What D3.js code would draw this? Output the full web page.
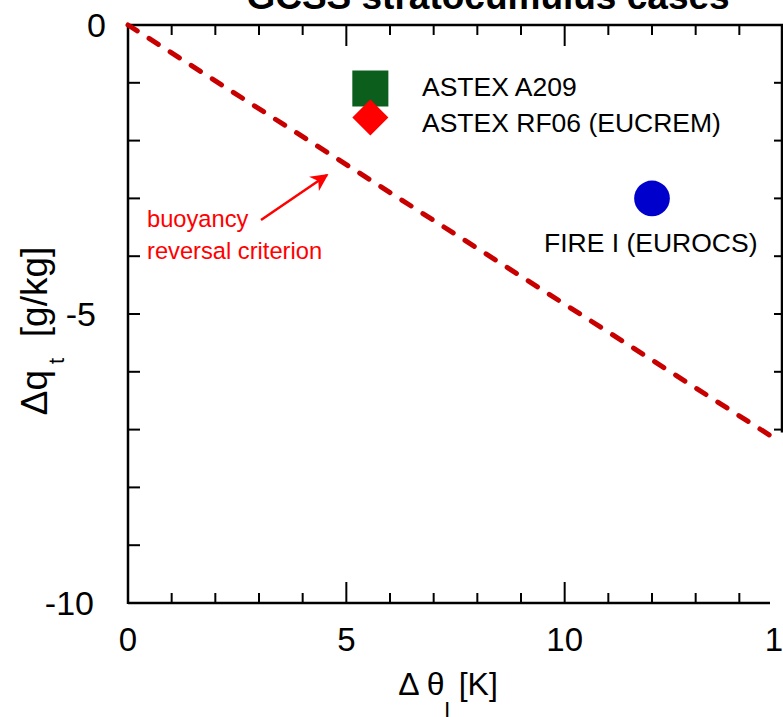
<!DOCTYPE html>
<html>
<head>
<meta charset="utf-8">
<style>
  body { margin: 0; background: #fff; }
  svg { font-family: "Liberation Sans", Arial, sans-serif; }
</style>
</head>
<body>
<svg width="783" height="717"></svg>
<script src="https://cdnjs.cloudflare.com/ajax/libs/d3/7.8.5/d3.min.js"></script>
<script>

// cases (delta theta_l [K], delta q_t [g/kg])
var caseNames = ["ASTEX A209", "ASTEX RF06 (EUCREM)", "FIRE I (EUROCS)"],
    caseDTheta = [5.55, 5.55, 12.0],
    caseDQt = [-1.1, -1.6, -3.0],
    caseSymbols = ["square", "diamond", "circle"],
    caseColors = ["#0b5e1b", "#ff0000", "#0000cc"];

// buoyancy reversal criterion line
var critDTheta = [0, 14.7],
    critDQt = [0, -7.1];

var xMajorTicks = [0, 5, 10, 15],
    yMajorTicks = [0, -5, -10];

var svg = d3.select("svg"),
    pLeft = 128, pTop = 25, pRight = 783, pBottom = 603;

var x = d3.scaleLinear().domain([0, 15]).range([pLeft, pRight]),
    y = d3.scaleLinear().domain([-10, 0]).range([pBottom, pTop]);

// frame (right edge only partly drawn, bottom stops short, as in the original)
var frame = svg.append("g").attr("stroke", "#000").attr("stroke-width", 2.5).attr("fill", "none");
frame.append("line").attr("x1", pLeft).attr("x2", pLeft).attr("y1", pTop - 1).attr("y2", pBottom + 1);
frame.append("line").attr("x1", pLeft).attr("x2", pRight).attr("y1", pTop).attr("y2", pTop);
frame.append("line").attr("x1", pLeft).attr("x2", 770).attr("y1", pBottom).attr("y2", pBottom);
frame.append("line").attr("x1", pRight - 1).attr("x2", pRight - 1).attr("y1", pTop).attr("y2", y(-7.05));

// ticks
var ticks = svg.append("g").attr("stroke", "#000").attr("stroke-width", 2);
d3.range(1, 15).forEach(function(v) {
  var len = v % 5 === 0 ? 21 : 10;
  ticks.append("line").attr("x1", x(v)).attr("x2", x(v)).attr("y1", pBottom).attr("y2", pBottom - len);
  ticks.append("line").attr("x1", x(v)).attr("x2", x(v)).attr("y1", pTop).attr("y2", pTop + len);
});
d3.range(-9, 0).forEach(function(v) {
  ticks.append("line").attr("x1", pLeft).attr("x2", pLeft + 12).attr("y1", y(v)).attr("y2", y(v));
  if (v >= -7) ticks.append("line").attr("x1", pRight - 1).attr("x2", pRight - 9).attr("y1", y(v)).attr("y2", y(v));
});

// tick labels
svg.append("g").selectAll("text").data(xMajorTicks).join("text")
    .attr("x", function(d) { return x(d); })
    .attr("y", 651)
    .attr("text-anchor", "middle")
    .attr("font-size", 33)
    .text(function(d) { return d; });

var yLabelEnd = [106, 96, 94];
svg.append("g").selectAll("text").data(yMajorTicks).join("text")
    .attr("x", function(d, i) { return yLabelEnd[i]; })
    .attr("y", function(d) { return y(d) + 12; })
    .attr("text-anchor", "end")
    .attr("font-size", 34)
    .text(function(d) { return d; });

// title (cut off at the top)
svg.append("text")
    .attr("x", 488).attr("y", 9)
    .attr("text-anchor", "middle")
    .attr("font-size", 37).attr("font-weight", "bold")
    .text("GCSS stratocumulus cases");

// axis titles
var xt = svg.append("text").attr("x", 448).attr("y", 695).attr("text-anchor", "middle").attr("font-size", 32);
xt.append("tspan").text("\u0394 \u03b8");
xt.append("tspan").attr("dy", 24).attr("font-size", 24).text("l");
xt.append("tspan").attr("dy", -24).text(" [K]");

var yt = svg.append("text").attr("transform", "translate(47,331) rotate(-90)").attr("text-anchor", "middle").attr("font-size", 37);
yt.append("tspan").text("\u0394q");
yt.append("tspan").attr("dy", 17).attr("font-size", 22).text("\u00a0t");
yt.append("tspan").attr("dy", -17).text("\u00a0 [g/kg]");

// criterion dashed line
svg.append("path")
    .datum(d3.zip(critDTheta, critDQt))
    .attr("fill", "none")
    .attr("stroke", "#c80000")
    .attr("stroke-width", 5)
    .attr("stroke-linecap", "round")
    .attr("stroke-dasharray", "11,14")
    .attr("d", d3.line().x(function(d) { return x(d[0]); }).y(function(d) { return y(d[1]); }));

// markers
var sizes = { square: 1300, diamond: 650, circle: 1000 };
var symbolTypes = { square: d3.symbolSquare, diamond: d3.symbolSquare, circle: d3.symbolCircle };
svg.append("g").selectAll("path").data(caseNames).join("path")
    .attr("transform", function(d, i) {
      return "translate(" + x(caseDTheta[i]) + "," + y(caseDQt[i]) + ")" + (caseSymbols[i] === "diamond" ? " rotate(45)" : "");
    })
    .attr("fill", function(d, i) { return caseColors[i]; })
    .attr("d", function(d, i) { return d3.symbol().type(symbolTypes[caseSymbols[i]]).size(sizes[caseSymbols[i]])(); });

// case labels
var labelPos = [[422, 96], [422, 132], [544, 252]];
svg.append("g").selectAll("text").data(caseNames).join("text")
    .attr("x", function(d, i) { return labelPos[i][0]; })
    .attr("y", function(d, i) { return labelPos[i][1]; })
    .attr("font-size", 26.5)
    .text(function(d) { return d; });

// criterion annotation
svg.append("defs").append("marker")
    .attr("id", "head").attr("viewBox", "0 0 10 10").attr("refX", 9).attr("refY", 5)
    .attr("markerWidth", 7).attr("markerHeight", 7).attr("markerUnits", "strokeWidth").attr("orient", "auto")
  .append("path").attr("d", "M0,0L10,5L0,10L3,5Z").attr("fill", "#ff0000");

svg.append("line")
    .attr("x1", 261).attr("y1", 220).attr("x2", 327).attr("y2", 175)
    .attr("stroke", "#ff0000").attr("stroke-width", 2.5)
    .attr("marker-end", "url(#head)");

svg.append("text").attr("x", 147).attr("y", 227).attr("fill", "#ff0000").attr("font-size", 23.7).text("buoyancy");
svg.append("text").attr("x", 147).attr("y", 259).attr("fill", "#ff0000").attr("font-size", 23.7).text("reversal criterion");

</script>
</body>
</html>
